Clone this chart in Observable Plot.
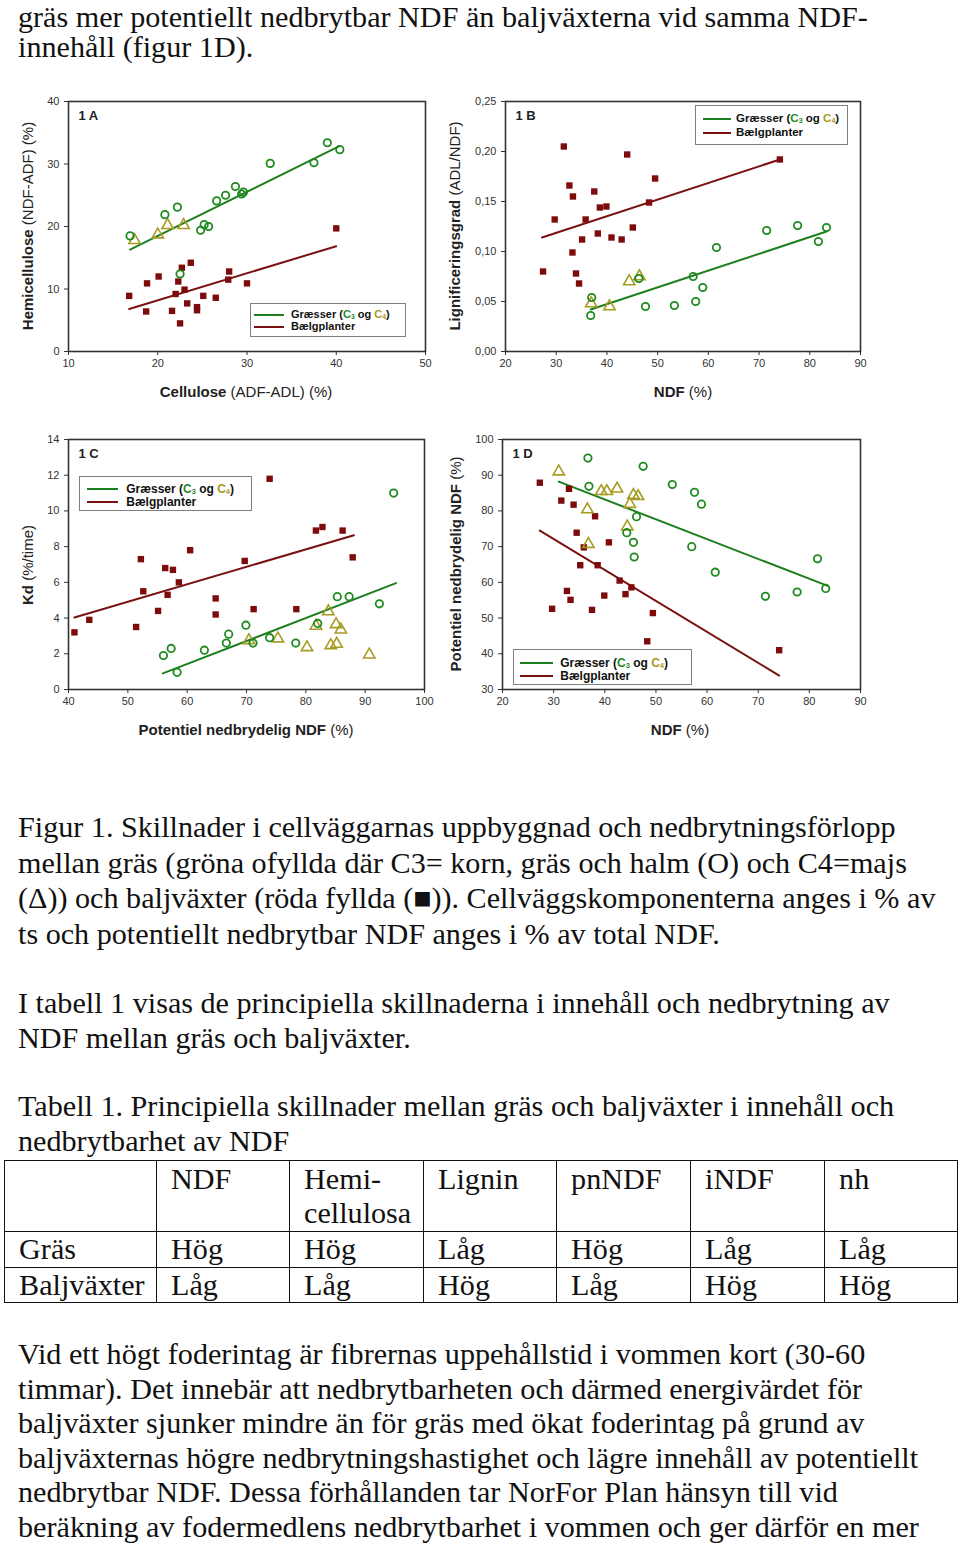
<!DOCTYPE html>
<html><head><meta charset="utf-8">
<script src="https://cdn.jsdelivr.net/npm/d3@7"></script>
<script src="https://cdn.jsdelivr.net/npm/@observablehq/plot@0.6"></script>
<style>
body{margin:0;background:#fff;}
#page{position:relative;width:960px;height:1549px;overflow:hidden;background:#fff;}
.serif{position:absolute;font-family:"Liberation Serif","Times New Roman",serif;font-size:30px;color:#111;white-space:nowrap;transform-origin:0 0;}
.sans{position:absolute;font-family:"Liberation Sans",Arial,sans-serif;color:#222;white-space:nowrap;}
.leg{position:absolute;border:1px solid #808080;background:#fff;box-sizing:border-box;}
.leg sub{font-size:0.62em;vertical-align:-0.2em;line-height:0;}
table.t{position:absolute;border-collapse:collapse;font-family:"Liberation Serif","Times New Roman",serif;font-size:30px;color:#111;}
table.t td{border:1.5px solid #111;padding:0;vertical-align:top;}
</style></head><body><div id="page"></div>
<script>
// ---------- Panel 1A: Cellulose vs Hemicellulose ----------
const A_c3 = [[16.9,18.5],[20.8,21.9],[22.2,23.1],[26.6,24.1],[27.6,25.0],[28.7,26.4],[29.4,25.2],[29.6,25.5],[24.8,19.4],[25.2,20.3],[25.7,20.0],[22.5,12.4],[32.6,30.1],[37.5,30.2],[39.0,33.4],[40.4,32.3]];
const A_c4 = [[17.4,17.8],[20.0,18.7],[21.1,20.2],[22.9,20.2]];
const A_leg = [[16.8,8.9],[18.8,10.9],[20.1,12.0],[18.7,6.4],[21.6,6.5],[22.5,4.5],[22.0,9.2],[22.3,11.2],[22.7,13.4],[23.7,14.2],[23.0,9.9],[23.3,7.7],[24.4,7.1],[24.4,6.6],[25.1,8.9],[26.5,8.6],[28.0,12.8],[27.9,11.5],[30.0,10.9],[40.0,19.7]];
const A_lineGrass = [[16.9,16.3],[40.35,32.85]];
const A_lineLeg = [[16.8,6.8],[40.0,16.85]];
const A_xTicks = [10,20,30,40,50];
const A_yTicks = [0,10,20,30,40];

// ---------- Panel 1B: NDF vs Lignificeringsgrad ----------
const B_leg = [[31.5,0.205],[44.0,0.197],[32.6,0.166],[33.3,0.155],[37.5,0.160],[49.5,0.173],[38.6,0.144],[39.9,0.145],[48.3,0.149],[29.7,0.132],[35.8,0.132],[45.1,0.124],[38.2,0.118],[40.9,0.114],[35.1,0.112],[42.9,0.112],[33.2,0.099],[27.4,0.080],[33.9,0.078],[34.5,0.068],[74.1,0.192]];
const B_c3 = [[37.0,0.054],[36.8,0.036],[47.6,0.045],[53.3,0.046],[46.3,0.073],[57.0,0.075],[58.9,0.064],[57.5,0.050],[61.6,0.104],[71.5,0.121],[77.6,0.126],[81.7,0.110],[83.3,0.124]];
const B_c4 = [[36.9,0.048],[40.5,0.045],[44.4,0.070],[46.4,0.075]];
const B_lineGrass = [[36.8,0.042],[83.3,0.120]];
const B_lineLeg = [[27.2,0.114],[74.1,0.192]];
const B_xTicks = [20,30,40,50,60,70,80,90];
const B_yTicks = [0,0.05,0.10,0.15,0.20,0.25];

// ---------- Panel 1C: pnNDF vs Kd ----------
const C_leg = [[41.0,3.2],[43.5,3.9],[51.4,3.5],[52.2,7.3],[52.6,5.5],[55.1,4.4],[56.3,6.8],[57.6,6.7],[58.6,6.0],[56.7,5.3],[60.5,7.8],[64.8,5.1],[64.8,4.2],[69.7,7.2],[71.2,4.5],[73.9,11.8],[78.4,4.5],[81.7,8.9],[82.8,9.1],[86.2,8.9],[87.9,7.4]];
const C_c3 = [[56.0,1.9],[57.3,2.3],[58.3,0.96],[62.9,2.2],[66.6,2.6],[67.0,3.1],[69.9,3.6],[71.1,2.6],[73.9,2.9],[78.3,2.6],[82.0,3.7],[85.3,5.2],[87.3,5.2],[92.4,4.8],[94.8,11.0]];
const C_c4 = [[70.4,2.75],[75.3,2.85],[80.2,2.36],[81.7,3.56],[83.8,4.37],[85.1,3.65],[85.9,3.35],[84.2,2.47],[85.2,2.55],[90.7,1.95]];
const C_lineGrass = [[55.9,0.9],[95.2,5.96]];
const C_lineLeg = [[41.0,4.03],[88.1,8.64]];
const C_xTicks = [40,50,60,70,80,90,100];
const C_yTicks = [0,2,4,6,8,10,12,14];

// ---------- Panel 1D: NDF vs pnNDF ----------
const D_leg = [[27.3,87.9],[33.0,86.2],[31.5,82.9],[33.9,81.75],[38.1,78.5],[34.5,73.9],[35.9,69.8],[40.8,71.2],[35.2,64.8],[38.6,64.8],[42.9,60.5],[45.2,58.6],[44.05,56.7],[32.6,57.6],[33.3,55.1],[39.9,56.3],[29.7,52.6],[37.5,52.3],[49.4,51.4],[48.3,43.5],[74.1,41.0]];
const D_c3 = [[36.7,94.8],[47.5,92.5],[36.9,86.9],[53.2,87.4],[57.55,85.2],[58.9,81.9],[46.2,78.4],[44.3,73.9],[45.6,71.2],[45.75,67.1],[57.0,70.0],[61.6,62.85],[71.4,56.1],[77.6,57.3],[81.6,66.6],[83.2,58.3]];
const D_c4 = [[31.0,91.0],[39.3,85.5],[40.4,85.5],[42.4,86.2],[45.6,84.4],[46.5,84.1],[44.9,81.9],[36.6,80.4],[44.4,75.6],[36.8,70.7]];
const D_lineGrass = [[31.0,88.2],[83.6,59.0]];
const D_lineLeg = [[27.3,74.5],[74.1,33.9]];
const D_xTicks = [20,30,40,50,60,70,80,90];
const D_yTicks = [30,40,50,60,70,80,90,100];

// ---------- Text ----------
const topLines = ["gräs mer potentiellt nedbrytbar NDF än baljväxterna vid samma NDF-", "innehåll (figur 1D)."];
const captionLines = ["Figur 1. Skillnader i cellväggarnas uppbyggnad och nedbrytningsförlopp",
  "mellan gräs (gröna ofyllda där C3= korn, gräs och halm (O) och C4=majs",
  "(\u0394)) och baljväxter (röda fyllda (\u25A0)). Cellväggskomponenterna anges i % av",
  "ts och potentiellt nedbrytbar NDF anges i % av total NDF."];
const paraLines = ["I tabell 1 visas de principiella skillnaderna i innehåll och nedbrytning av", "NDF mellan gräs och baljväxter."];
const tableTitleLines = ["Tabell 1. Principiella skillnader mellan gräs och baljväxter i innehåll och", "nedbrytbarhet av NDF"];
const tableHeader = ["", "NDF", "Hemi-<br>cellulosa", "Lignin", "pnNDF", "iNDF", "nh"];
const tableRows = [["Gräs","Hög","Hög","Låg","Hög","Låg","Låg"],["Baljväxter","Låg","Låg","Hög","Låg","Hög","Hög"]];
const finalLines = ["Vid ett högt foderintag är fibrernas uppehållstid i vommen kort (30-60",
  "timmar). Det innebär att nedbrytbarheten och därmed energivärdet för",
  "baljväxter sjunker mindre än för gräs med ökat foderintag på grund av",
  "baljväxternas högre nedbrytningshastighet och lägre innehåll av potentiellt",
  "nedbrytbar NDF. Dessa förhållanden tar NorFor Plan hänsyn till vid",
  "beräkning av fodermedlens nedbrytbarhet i vommen och ger därför en mer"];

const COL = {c3:"#1f8a1f", c4:"#a89b22", leg:"#7d0b0b", grassLine:"#1e7f1e", legLine:"#7a1111"};
const page = document.getElementById("page");
const SX = 1.005;

function serifBlock(lines, top, lh){
  lines.forEach((t,i)=>{
    const d=document.createElement("div");
    d.className="serif"; d.textContent=t;
    d.style.left="18px"; d.style.top=(top+i*lh)+"px"; d.style.lineHeight=lh+"px";
    d.style.transform=`scaleX(${SX})`;
    page.appendChild(d);
  });
}

function panel(o){
  const p = Plot.plot({
    width:o.width, height:o.height, marginLeft:o.mL, marginRight:o.mR, marginTop:o.mT, marginBottom:o.mB,
    style:{fontFamily:"Liberation Sans, Arial, sans-serif", fontSize:"11px", color:"#333", background:"transparent", overflow:"visible"},
    x:{domain:o.xDom}, y:{domain:o.yDom},
    marks:[
      Plot.axisX({ticks:o.xTicks, tickSize:4, tickPadding:4, label:null}),
      Plot.axisY({ticks:o.yTicks, tickSize:4, tickPadding:5, label:null, tickFormat:o.yFmt}),
      Plot.line(o.lineL, {stroke:COL.legLine, strokeWidth:2}),
      Plot.line(o.lineG, {stroke:COL.grassLine, strokeWidth:2}),
      Plot.dot(o.leg, {symbol:"square", fill:COL.leg, r:3.6}),
      Plot.dot(o.c4, {symbol:"triangle", stroke:COL.c4, fill:"none", strokeWidth:1.6, r:4.2}),
      Plot.dot(o.c3, {symbol:"circle", stroke:COL.c3, fill:"none", strokeWidth:1.8, r:3.7}),
      Plot.text([o.tag], {frameAnchor:"top-left", dx:10, dy:9, fontWeight:"bold", fontSize:13, fill:"#222"}),
      Plot.frame({stroke:"#333", strokeWidth:1.6})
    ]
  });
  p.style.position="absolute"; p.style.left=o.left+"px"; p.style.top=o.top+"px";
  page.appendChild(p);
}

const comma = d => d.toFixed(2).replace(".", ",");
panel({left:0, top:90, width:440, height:291, mL:68, mR:15, mT:11, mB:30, xDom:[10,50], yDom:[0,40], xTicks:A_xTicks, yTicks:A_yTicks, c3:A_c3, c4:A_c4, leg:A_leg, lineG:A_lineGrass, lineL:A_lineLeg, tag:"1 A"});
panel({left:460, top:90, width:420, height:291, mL:45, mR:20, mT:11, mB:30, xDom:[20,90], yDom:[0,0.25], xTicks:B_xTicks, yTicks:B_yTicks, yFmt:comma, c3:B_c3, c4:B_c4, leg:B_leg, lineG:B_lineGrass, lineL:B_lineLeg, tag:"1 B"});
panel({left:0, top:428, width:440, height:291, mL:68, mR:16, mT:11, mB:30, xDom:[40,100], yDom:[0,14], xTicks:C_xTicks, yTicks:C_yTicks, c3:C_c3, c4:C_c4, leg:C_leg, lineG:C_lineGrass, lineL:C_lineLeg, tag:"1 C"});
panel({left:460, top:428, width:418, height:291, mL:42, mR:18, mT:11, mB:30, xDom:[20,90], yDom:[30,100], xTicks:D_xTicks, yTicks:D_yTicks, c3:D_c3, c4:D_c4, leg:D_leg, lineG:D_lineGrass, lineL:D_lineLeg, tag:"1 D"});

function label(html, cx, cy, rot){
  const d=document.createElement("div");
  d.className="sans"; d.innerHTML=html;
  d.style.fontSize="15px"; d.style.lineHeight="18px";
  d.style.left=cx+"px"; d.style.top=cy+"px";
  d.style.transform = "translate(-50%,-50%)" + (rot ? " rotate(-90deg)" : "");
  page.appendChild(d);
}
label("<b>Cellulose</b> (ADF-ADL) (%)", 246, 392);
label("<b>NDF</b> (%)", 683, 392);
label("<b>Potentiel nedbrydelig NDF</b> (%)", 246, 730);
label("<b>NDF</b> (%)", 680, 730);
label("<b>Hemicellulose</b> (NDF-ADF) (%)", 28, 226, true);
label("<b>Lignificeringsgrad</b> (ADL/NDF)", 455, 226, true);
label("<b>Kd</b> (%/time)", 28, 565, true);
label("<b>Potentiel nedbrydelig NDF</b> (%)", 456, 564, true);

function legend(o){
  const b=document.createElement("div");
  b.className="leg";
  Object.assign(b.style,{left:o.left+"px", top:o.top+"px", width:o.w+"px", height:o.h+"px"});
  const rows=[{c:COL.grassLine, html:`Græsser (<span style="color:${COL.c3}">C<sub>3</sub></span> og <span style="color:${COL.c4}">C<sub>4</sub></span>)`},{c:COL.legLine, html:"Bælgplanter"}];
  rows.forEach((r,i)=>{
    const y=o.rows[i];
    const ln=document.createElement("div");
    Object.assign(ln.style,{position:"absolute", left:o.lx+"px", top:(y-1)+"px", width:o.ll+"px", height:"2px", background:r.c});
    b.appendChild(ln);
    const tx=document.createElement("div");
    const lh=Math.min(o.fs, (o.rows[1]-o.rows[0]));
    tx.className="sans"; tx.innerHTML="<b>"+r.html+"</b>";
    Object.assign(tx.style,{left:o.tx+"px", top:(y-lh/2-0.5)+"px", fontSize:o.fs+"px", lineHeight:lh+"px", height:lh+"px", color:"#111"});
    b.appendChild(tx);
  });
  page.appendChild(b);
}
legend({left:250, top:303, w:156, h:34, rows:[11.2,23.2], lx:3, ll:30, tx:40, fs:11});
legend({left:695, top:105, w:153, h:40, rows:[13.3,27.3], lx:6.7, ll:28, tx:40, fs:11.5});
legend({left:78.7, top:475.7, w:173, h:35.3, rows:[12.6,25.6], lx:7.3, ll:31, tx:46.6, fs:12});
legend({left:512.7, top:649.3, w:179.6, h:35.7, rows:[12.8,25.8], lx:6.3, ll:33, tx:46.6, fs:12});

// body text
serifBlock(topLines.slice(0,1), 1.5, 30);
serifBlock(topLines.slice(1), 31.5, 30);
serifBlock(captionLines, 809, 35.6);
serifBlock(paraLines, 985, 35);
serifBlock(tableTitleLines, 1089, 34.5);
serifBlock(finalLines, 1337, 34.6);

// table
const colW=[152,133,134,133,134,134,133];
const rowH=[71,36,35];
const tbl=document.createElement("table");
tbl.className="t";
tbl.style.left="4px"; tbl.style.top="1160px";
[tableHeader, ...tableRows].forEach((row,ri)=>{
  const tr=document.createElement("tr");
  row.forEach((cell,ci)=>{
    const td=document.createElement("td");
    td.style.width=colW[ci]+"px"; td.style.height=rowH[ri]+"px"; td.style.boxSizing="border-box";
    const inner=document.createElement("div");
    inner.innerHTML=cell;
    Object.assign(inner.style,{transform:`scaleX(${SX})`, transformOrigin:"0 0", paddingLeft:"14px", lineHeight:"34px", whiteSpace:"nowrap", marginTop: ri===0 ? "1px" : "0px"});
    td.appendChild(inner);
    tr.appendChild(td);
  });
  tbl.appendChild(tr);
});
page.appendChild(tbl);
</script></body></html>
